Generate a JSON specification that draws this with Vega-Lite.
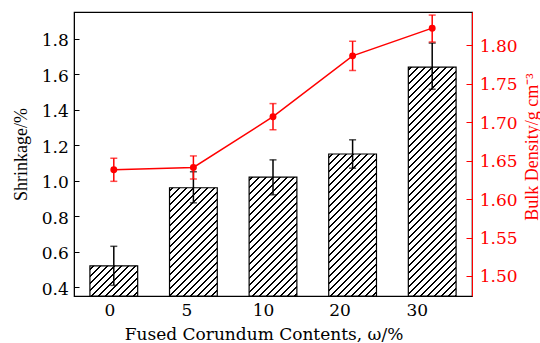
{
"$schema": "https://vega.github.io/schema/vega-lite/v6.json",
"width": 398,
"height": 284,
"autosize": {"type": "none"},
"padding": {"left": 74, "top": 12, "right": 68, "bottom": 47},
"config": {"view": {"stroke": "#000", "strokeWidth": 1.2}, "axis": {"grid": false}},
"data": {"values": [
{"c": "0", "s": 0.52, "sLo": 0.41, "sHi": 0.63, "d": 1.638, "dLo": 1.623, "dHi": 1.653},
{"c": "5", "s": 0.96, "sLo": 0.875, "sHi": 1.05, "d": 1.641, "dLo": 1.626, "dHi": 1.656},
{"c": "10", "s": 1.02, "sLo": 0.92, "sHi": 1.117, "d": 1.707, "dLo": 1.69, "dHi": 1.724},
{"c": "20", "s": 1.15, "sLo": 1.07, "sHi": 1.23, "d": 1.786, "dLo": 1.767, "dHi": 1.805},
{"c": "30", "s": 1.64, "sLo": 1.515, "sHi": 1.775, "d": 1.822, "dLo": 1.804, "dHi": 1.839}
]},
"layer": [
{"layer": [
{"mark": {"type": "bar", "stroke": "#000", "strokeWidth": 1.2},
 "encoding": {
  "x": {"field": "c", "type": "ordinal", "sort": ["0","5","10","20","30"], "scale": {"paddingInner": 0.4, "paddingOuter": 0.2},
   "axis": {"title": "Fused Corundum Contents, ω/%", "titleFont": "DejaVu Serif", "titleFontSize": 17, "titleFontWeight": "normal", "titleColor": "#000", "titleX": 189.5, "titleY": 43, "titleBaseline": "alphabetic",
    "labelFont": "DejaVu Serif", "labelFontSize": 17, "labelColor": "#000", "labelAngle": 0, "labelPadding": 11,
    "labelOffset": {"condition": [{"test": "datum.value === '0'", "value": -4}, {"test": "datum.value === '5'", "value": -6.5}, {"test": "datum.value === '10'", "value": -9.5}, {"test": "datum.value === '20'", "value": -12.5}], "value": -15},
    "domainColor": "#000", "tickColor": "#000", "tickSize": -5}},
  "y": {"field": "s", "type": "quantitative", "scale": {"domain": [0.35, 1.95], "nice": false},
   "axis": {"values": [0.4,0.6,0.8,1.0,1.2,1.4,1.6,1.8], "format": ".1f", "title": "Shrinkage/%", "titleFont": "Liberation Serif", "titleFontSize": 18, "titleFontWeight": "normal", "titleColor": "#000", "titlePadding": 11,
    "labelFont": "DejaVu Serif", "labelFontSize": 17, "labelColor": "#000", "labelPadding": 10.7, "labelOffset": 2,
    "domainColor": "#000", "tickColor": "#000", "tickSize": -5}},
  "y2": {"datum": 0.35},
  "fill": {"condition": [
   {"test": "datum.c === '0'", "value": {"gradient": "linear", "x1": 0, "y1": 0, "x2": 4.3997, "y2": 2.7797, "stops": [
{"offset":0,"color":"#fff"},
{"offset":0.0085,"color":"#fff"},{"offset":0.0085,"color":"#000"},{"offset":0.0153,"color":"#000"},{"offset":0.0153,"color":"#fff"},
{"offset":0.0323,"color":"#fff"},{"offset":0.0323,"color":"#000"},{"offset":0.0391,"color":"#000"},{"offset":0.0391,"color":"#fff"},
{"offset":0.0561,"color":"#fff"},{"offset":0.0561,"color":"#000"},{"offset":0.0629,"color":"#000"},{"offset":0.0629,"color":"#fff"},
{"offset":0.0799,"color":"#fff"},{"offset":0.0799,"color":"#000"},{"offset":0.0867,"color":"#000"},{"offset":0.0867,"color":"#fff"},
{"offset":0.1037,"color":"#fff"},{"offset":0.1037,"color":"#000"},{"offset":0.1105,"color":"#000"},{"offset":0.1105,"color":"#fff"},
{"offset":0.1276,"color":"#fff"},{"offset":0.1276,"color":"#000"},{"offset":0.1344,"color":"#000"},{"offset":0.1344,"color":"#fff"},
{"offset":0.1514,"color":"#fff"},{"offset":0.1514,"color":"#000"},{"offset":0.1582,"color":"#000"},{"offset":0.1582,"color":"#fff"},
{"offset":0.1752,"color":"#fff"},{"offset":0.1752,"color":"#000"},{"offset":0.1820,"color":"#000"},{"offset":0.1820,"color":"#fff"},
{"offset":0.1990,"color":"#fff"},{"offset":0.1990,"color":"#000"},{"offset":0.2058,"color":"#000"},{"offset":0.2058,"color":"#fff"},
{"offset":0.2228,"color":"#fff"},{"offset":0.2228,"color":"#000"},{"offset":0.2296,"color":"#000"},{"offset":0.2296,"color":"#fff"},
{"offset":0.2466,"color":"#fff"},{"offset":0.2466,"color":"#000"},{"offset":0.2534,"color":"#000"},{"offset":0.2534,"color":"#fff"},
{"offset":0.2704,"color":"#fff"},{"offset":0.2704,"color":"#000"},{"offset":0.2772,"color":"#000"},{"offset":0.2772,"color":"#fff"},
{"offset":1,"color":"#fff"}]}},
   {"test": "datum.c === '5'", "value": {"gradient": "linear", "x1": 0, "y1": 0, "x2": 1.00264, "y2": 2.27304, "stops": [
{"offset":0,"color":"#fff"},
{"offset":0.0085,"color":"#fff"},{"offset":0.0085,"color":"#000"},{"offset":0.0153,"color":"#000"},{"offset":0.0153,"color":"#fff"},
{"offset":0.0323,"color":"#fff"},{"offset":0.0323,"color":"#000"},{"offset":0.0391,"color":"#000"},{"offset":0.0391,"color":"#fff"},
{"offset":0.0561,"color":"#fff"},{"offset":0.0561,"color":"#000"},{"offset":0.0629,"color":"#000"},{"offset":0.0629,"color":"#fff"},
{"offset":0.0799,"color":"#fff"},{"offset":0.0799,"color":"#000"},{"offset":0.0867,"color":"#000"},{"offset":0.0867,"color":"#fff"},
{"offset":0.1037,"color":"#fff"},{"offset":0.1037,"color":"#000"},{"offset":0.1105,"color":"#000"},{"offset":0.1105,"color":"#fff"},
{"offset":0.1276,"color":"#fff"},{"offset":0.1276,"color":"#000"},{"offset":0.1344,"color":"#000"},{"offset":0.1344,"color":"#fff"},
{"offset":0.1514,"color":"#fff"},{"offset":0.1514,"color":"#000"},{"offset":0.1582,"color":"#000"},{"offset":0.1582,"color":"#fff"},
{"offset":0.1752,"color":"#fff"},{"offset":0.1752,"color":"#000"},{"offset":0.1820,"color":"#000"},{"offset":0.1820,"color":"#fff"},
{"offset":0.1990,"color":"#fff"},{"offset":0.1990,"color":"#000"},{"offset":0.2058,"color":"#000"},{"offset":0.2058,"color":"#fff"},
{"offset":0.2228,"color":"#fff"},{"offset":0.2228,"color":"#000"},{"offset":0.2296,"color":"#000"},{"offset":0.2296,"color":"#fff"},
{"offset":0.2466,"color":"#fff"},{"offset":0.2466,"color":"#000"},{"offset":0.2534,"color":"#000"},{"offset":0.2534,"color":"#fff"},
{"offset":0.2704,"color":"#fff"},{"offset":0.2704,"color":"#000"},{"offset":0.2772,"color":"#000"},{"offset":0.2772,"color":"#fff"},
{"offset":0.2942,"color":"#fff"},{"offset":0.2942,"color":"#000"},{"offset":0.3010,"color":"#000"},{"offset":0.3010,"color":"#fff"},
{"offset":0.3180,"color":"#fff"},{"offset":0.3180,"color":"#000"},{"offset":0.3248,"color":"#000"},{"offset":0.3248,"color":"#fff"},
{"offset":0.3418,"color":"#fff"},{"offset":0.3418,"color":"#000"},{"offset":0.3486,"color":"#000"},{"offset":0.3486,"color":"#fff"},
{"offset":0.3656,"color":"#fff"},{"offset":0.3656,"color":"#000"},{"offset":0.3724,"color":"#000"},{"offset":0.3724,"color":"#fff"},
{"offset":0.3895,"color":"#fff"},{"offset":0.3895,"color":"#000"},{"offset":0.3963,"color":"#000"},{"offset":0.3963,"color":"#fff"},
{"offset":0.4133,"color":"#fff"},{"offset":0.4133,"color":"#000"},{"offset":0.4201,"color":"#000"},{"offset":0.4201,"color":"#fff"},
{"offset":0.4371,"color":"#fff"},{"offset":0.4371,"color":"#000"},{"offset":0.4439,"color":"#000"},{"offset":0.4439,"color":"#fff"},
{"offset":0.4609,"color":"#fff"},{"offset":0.4609,"color":"#000"},{"offset":0.4677,"color":"#000"},{"offset":0.4677,"color":"#fff"},
{"offset":0.4847,"color":"#fff"},{"offset":0.4847,"color":"#000"},{"offset":0.4915,"color":"#000"},{"offset":0.4915,"color":"#fff"},
{"offset":0.5085,"color":"#fff"},{"offset":0.5085,"color":"#000"},{"offset":0.5153,"color":"#000"},{"offset":0.5153,"color":"#fff"},
{"offset":0.5323,"color":"#fff"},{"offset":0.5323,"color":"#000"},{"offset":0.5391,"color":"#000"},{"offset":0.5391,"color":"#fff"},
{"offset":1,"color":"#fff"}]}},
   {"test": "datum.c === '10'", "value": {"gradient": "linear", "x1": 0, "y1": 0, "x2": 0.85492, "y2": 2.12882, "stops": [
{"offset":0,"color":"#fff"},
{"offset":0.0085,"color":"#fff"},{"offset":0.0085,"color":"#000"},{"offset":0.0153,"color":"#000"},{"offset":0.0153,"color":"#fff"},
{"offset":0.0323,"color":"#fff"},{"offset":0.0323,"color":"#000"},{"offset":0.0391,"color":"#000"},{"offset":0.0391,"color":"#fff"},
{"offset":0.0561,"color":"#fff"},{"offset":0.0561,"color":"#000"},{"offset":0.0629,"color":"#000"},{"offset":0.0629,"color":"#fff"},
{"offset":0.0799,"color":"#fff"},{"offset":0.0799,"color":"#000"},{"offset":0.0867,"color":"#000"},{"offset":0.0867,"color":"#fff"},
{"offset":0.1037,"color":"#fff"},{"offset":0.1037,"color":"#000"},{"offset":0.1105,"color":"#000"},{"offset":0.1105,"color":"#fff"},
{"offset":0.1276,"color":"#fff"},{"offset":0.1276,"color":"#000"},{"offset":0.1344,"color":"#000"},{"offset":0.1344,"color":"#fff"},
{"offset":0.1514,"color":"#fff"},{"offset":0.1514,"color":"#000"},{"offset":0.1582,"color":"#000"},{"offset":0.1582,"color":"#fff"},
{"offset":0.1752,"color":"#fff"},{"offset":0.1752,"color":"#000"},{"offset":0.1820,"color":"#000"},{"offset":0.1820,"color":"#fff"},
{"offset":0.1990,"color":"#fff"},{"offset":0.1990,"color":"#000"},{"offset":0.2058,"color":"#000"},{"offset":0.2058,"color":"#fff"},
{"offset":0.2228,"color":"#fff"},{"offset":0.2228,"color":"#000"},{"offset":0.2296,"color":"#000"},{"offset":0.2296,"color":"#fff"},
{"offset":0.2466,"color":"#fff"},{"offset":0.2466,"color":"#000"},{"offset":0.2534,"color":"#000"},{"offset":0.2534,"color":"#fff"},
{"offset":0.2704,"color":"#fff"},{"offset":0.2704,"color":"#000"},{"offset":0.2772,"color":"#000"},{"offset":0.2772,"color":"#fff"},
{"offset":0.2942,"color":"#fff"},{"offset":0.2942,"color":"#000"},{"offset":0.3010,"color":"#000"},{"offset":0.3010,"color":"#fff"},
{"offset":0.3180,"color":"#fff"},{"offset":0.3180,"color":"#000"},{"offset":0.3248,"color":"#000"},{"offset":0.3248,"color":"#fff"},
{"offset":0.3418,"color":"#fff"},{"offset":0.3418,"color":"#000"},{"offset":0.3486,"color":"#000"},{"offset":0.3486,"color":"#fff"},
{"offset":0.3656,"color":"#fff"},{"offset":0.3656,"color":"#000"},{"offset":0.3724,"color":"#000"},{"offset":0.3724,"color":"#fff"},
{"offset":0.3895,"color":"#fff"},{"offset":0.3895,"color":"#000"},{"offset":0.3963,"color":"#000"},{"offset":0.3963,"color":"#fff"},
{"offset":0.4133,"color":"#fff"},{"offset":0.4133,"color":"#000"},{"offset":0.4201,"color":"#000"},{"offset":0.4201,"color":"#fff"},
{"offset":0.4371,"color":"#fff"},{"offset":0.4371,"color":"#000"},{"offset":0.4439,"color":"#000"},{"offset":0.4439,"color":"#fff"},
{"offset":0.4609,"color":"#fff"},{"offset":0.4609,"color":"#000"},{"offset":0.4677,"color":"#000"},{"offset":0.4677,"color":"#fff"},
{"offset":0.4847,"color":"#fff"},{"offset":0.4847,"color":"#000"},{"offset":0.4915,"color":"#000"},{"offset":0.4915,"color":"#fff"},
{"offset":0.5085,"color":"#fff"},{"offset":0.5085,"color":"#000"},{"offset":0.5153,"color":"#000"},{"offset":0.5153,"color":"#fff"},
{"offset":0.5323,"color":"#fff"},{"offset":0.5323,"color":"#000"},{"offset":0.5391,"color":"#000"},{"offset":0.5391,"color":"#fff"},
{"offset":0.5561,"color":"#fff"},{"offset":0.5561,"color":"#000"},{"offset":0.5629,"color":"#000"},{"offset":0.5629,"color":"#fff"},
{"offset":1,"color":"#fff"}]}},
   {"test": "datum.c === '20'", "value": {"gradient": "linear", "x1": 0, "y1": 0, "x2": 0.62559, "y2": 1.86001, "stops": [
{"offset":0,"color":"#fff"},
{"offset":0.0085,"color":"#fff"},{"offset":0.0085,"color":"#000"},{"offset":0.0153,"color":"#000"},{"offset":0.0153,"color":"#fff"},
{"offset":0.0323,"color":"#fff"},{"offset":0.0323,"color":"#000"},{"offset":0.0391,"color":"#000"},{"offset":0.0391,"color":"#fff"},
{"offset":0.0561,"color":"#fff"},{"offset":0.0561,"color":"#000"},{"offset":0.0629,"color":"#000"},{"offset":0.0629,"color":"#fff"},
{"offset":0.0799,"color":"#fff"},{"offset":0.0799,"color":"#000"},{"offset":0.0867,"color":"#000"},{"offset":0.0867,"color":"#fff"},
{"offset":0.1037,"color":"#fff"},{"offset":0.1037,"color":"#000"},{"offset":0.1105,"color":"#000"},{"offset":0.1105,"color":"#fff"},
{"offset":0.1276,"color":"#fff"},{"offset":0.1276,"color":"#000"},{"offset":0.1344,"color":"#000"},{"offset":0.1344,"color":"#fff"},
{"offset":0.1514,"color":"#fff"},{"offset":0.1514,"color":"#000"},{"offset":0.1582,"color":"#000"},{"offset":0.1582,"color":"#fff"},
{"offset":0.1752,"color":"#fff"},{"offset":0.1752,"color":"#000"},{"offset":0.1820,"color":"#000"},{"offset":0.1820,"color":"#fff"},
{"offset":0.1990,"color":"#fff"},{"offset":0.1990,"color":"#000"},{"offset":0.2058,"color":"#000"},{"offset":0.2058,"color":"#fff"},
{"offset":0.2228,"color":"#fff"},{"offset":0.2228,"color":"#000"},{"offset":0.2296,"color":"#000"},{"offset":0.2296,"color":"#fff"},
{"offset":0.2466,"color":"#fff"},{"offset":0.2466,"color":"#000"},{"offset":0.2534,"color":"#000"},{"offset":0.2534,"color":"#fff"},
{"offset":0.2704,"color":"#fff"},{"offset":0.2704,"color":"#000"},{"offset":0.2772,"color":"#000"},{"offset":0.2772,"color":"#fff"},
{"offset":0.2942,"color":"#fff"},{"offset":0.2942,"color":"#000"},{"offset":0.3010,"color":"#000"},{"offset":0.3010,"color":"#fff"},
{"offset":0.3180,"color":"#fff"},{"offset":0.3180,"color":"#000"},{"offset":0.3248,"color":"#000"},{"offset":0.3248,"color":"#fff"},
{"offset":0.3418,"color":"#fff"},{"offset":0.3418,"color":"#000"},{"offset":0.3486,"color":"#000"},{"offset":0.3486,"color":"#fff"},
{"offset":0.3656,"color":"#fff"},{"offset":0.3656,"color":"#000"},{"offset":0.3724,"color":"#000"},{"offset":0.3724,"color":"#fff"},
{"offset":0.3895,"color":"#fff"},{"offset":0.3895,"color":"#000"},{"offset":0.3963,"color":"#000"},{"offset":0.3963,"color":"#fff"},
{"offset":0.4133,"color":"#fff"},{"offset":0.4133,"color":"#000"},{"offset":0.4201,"color":"#000"},{"offset":0.4201,"color":"#fff"},
{"offset":0.4371,"color":"#fff"},{"offset":0.4371,"color":"#000"},{"offset":0.4439,"color":"#000"},{"offset":0.4439,"color":"#fff"},
{"offset":0.4609,"color":"#fff"},{"offset":0.4609,"color":"#000"},{"offset":0.4677,"color":"#000"},{"offset":0.4677,"color":"#fff"},
{"offset":0.4847,"color":"#fff"},{"offset":0.4847,"color":"#000"},{"offset":0.4915,"color":"#000"},{"offset":0.4915,"color":"#fff"},
{"offset":0.5085,"color":"#fff"},{"offset":0.5085,"color":"#000"},{"offset":0.5153,"color":"#000"},{"offset":0.5153,"color":"#fff"},
{"offset":0.5323,"color":"#fff"},{"offset":0.5323,"color":"#000"},{"offset":0.5391,"color":"#000"},{"offset":0.5391,"color":"#fff"},
{"offset":0.5561,"color":"#fff"},{"offset":0.5561,"color":"#000"},{"offset":0.5629,"color":"#000"},{"offset":0.5629,"color":"#fff"},
{"offset":0.5799,"color":"#fff"},{"offset":0.5799,"color":"#000"},{"offset":0.5867,"color":"#000"},{"offset":0.5867,"color":"#fff"},
{"offset":0.6037,"color":"#fff"},{"offset":0.6037,"color":"#000"},{"offset":0.6105,"color":"#000"},{"offset":0.6105,"color":"#fff"},
{"offset":0.6276,"color":"#fff"},{"offset":0.6276,"color":"#000"},{"offset":0.6344,"color":"#000"},{"offset":0.6344,"color":"#fff"},
{"offset":1,"color":"#fff"}]}}
  ],
  "value": {"gradient": "linear", "x1": 0, "y1": 0, "x2": 0.25665, "y2": 1.23045, "stops": [
{"offset":0,"color":"#fff"},
{"offset":0.0085,"color":"#fff"},{"offset":0.0085,"color":"#000"},{"offset":0.0153,"color":"#000"},{"offset":0.0153,"color":"#fff"},
{"offset":0.0323,"color":"#fff"},{"offset":0.0323,"color":"#000"},{"offset":0.0391,"color":"#000"},{"offset":0.0391,"color":"#fff"},
{"offset":0.0561,"color":"#fff"},{"offset":0.0561,"color":"#000"},{"offset":0.0629,"color":"#000"},{"offset":0.0629,"color":"#fff"},
{"offset":0.0799,"color":"#fff"},{"offset":0.0799,"color":"#000"},{"offset":0.0867,"color":"#000"},{"offset":0.0867,"color":"#fff"},
{"offset":0.1037,"color":"#fff"},{"offset":0.1037,"color":"#000"},{"offset":0.1105,"color":"#000"},{"offset":0.1105,"color":"#fff"},
{"offset":0.1276,"color":"#fff"},{"offset":0.1276,"color":"#000"},{"offset":0.1344,"color":"#000"},{"offset":0.1344,"color":"#fff"},
{"offset":0.1514,"color":"#fff"},{"offset":0.1514,"color":"#000"},{"offset":0.1582,"color":"#000"},{"offset":0.1582,"color":"#fff"},
{"offset":0.1752,"color":"#fff"},{"offset":0.1752,"color":"#000"},{"offset":0.1820,"color":"#000"},{"offset":0.1820,"color":"#fff"},
{"offset":0.1990,"color":"#fff"},{"offset":0.1990,"color":"#000"},{"offset":0.2058,"color":"#000"},{"offset":0.2058,"color":"#fff"},
{"offset":0.2228,"color":"#fff"},{"offset":0.2228,"color":"#000"},{"offset":0.2296,"color":"#000"},{"offset":0.2296,"color":"#fff"},
{"offset":0.2466,"color":"#fff"},{"offset":0.2466,"color":"#000"},{"offset":0.2534,"color":"#000"},{"offset":0.2534,"color":"#fff"},
{"offset":0.2704,"color":"#fff"},{"offset":0.2704,"color":"#000"},{"offset":0.2772,"color":"#000"},{"offset":0.2772,"color":"#fff"},
{"offset":0.2942,"color":"#fff"},{"offset":0.2942,"color":"#000"},{"offset":0.3010,"color":"#000"},{"offset":0.3010,"color":"#fff"},
{"offset":0.3180,"color":"#fff"},{"offset":0.3180,"color":"#000"},{"offset":0.3248,"color":"#000"},{"offset":0.3248,"color":"#fff"},
{"offset":0.3418,"color":"#fff"},{"offset":0.3418,"color":"#000"},{"offset":0.3486,"color":"#000"},{"offset":0.3486,"color":"#fff"},
{"offset":0.3656,"color":"#fff"},{"offset":0.3656,"color":"#000"},{"offset":0.3724,"color":"#000"},{"offset":0.3724,"color":"#fff"},
{"offset":0.3895,"color":"#fff"},{"offset":0.3895,"color":"#000"},{"offset":0.3963,"color":"#000"},{"offset":0.3963,"color":"#fff"},
{"offset":0.4133,"color":"#fff"},{"offset":0.4133,"color":"#000"},{"offset":0.4201,"color":"#000"},{"offset":0.4201,"color":"#fff"},
{"offset":0.4371,"color":"#fff"},{"offset":0.4371,"color":"#000"},{"offset":0.4439,"color":"#000"},{"offset":0.4439,"color":"#fff"},
{"offset":0.4609,"color":"#fff"},{"offset":0.4609,"color":"#000"},{"offset":0.4677,"color":"#000"},{"offset":0.4677,"color":"#fff"},
{"offset":0.4847,"color":"#fff"},{"offset":0.4847,"color":"#000"},{"offset":0.4915,"color":"#000"},{"offset":0.4915,"color":"#fff"},
{"offset":0.5085,"color":"#fff"},{"offset":0.5085,"color":"#000"},{"offset":0.5153,"color":"#000"},{"offset":0.5153,"color":"#fff"},
{"offset":0.5323,"color":"#fff"},{"offset":0.5323,"color":"#000"},{"offset":0.5391,"color":"#000"},{"offset":0.5391,"color":"#fff"},
{"offset":0.5561,"color":"#fff"},{"offset":0.5561,"color":"#000"},{"offset":0.5629,"color":"#000"},{"offset":0.5629,"color":"#fff"},
{"offset":0.5799,"color":"#fff"},{"offset":0.5799,"color":"#000"},{"offset":0.5867,"color":"#000"},{"offset":0.5867,"color":"#fff"},
{"offset":0.6037,"color":"#fff"},{"offset":0.6037,"color":"#000"},{"offset":0.6105,"color":"#000"},{"offset":0.6105,"color":"#fff"},
{"offset":0.6276,"color":"#fff"},{"offset":0.6276,"color":"#000"},{"offset":0.6344,"color":"#000"},{"offset":0.6344,"color":"#fff"},
{"offset":0.6514,"color":"#fff"},{"offset":0.6514,"color":"#000"},{"offset":0.6582,"color":"#000"},{"offset":0.6582,"color":"#fff"},
{"offset":0.6752,"color":"#fff"},{"offset":0.6752,"color":"#000"},{"offset":0.6820,"color":"#000"},{"offset":0.6820,"color":"#fff"},
{"offset":0.6990,"color":"#fff"},{"offset":0.6990,"color":"#000"},{"offset":0.7058,"color":"#000"},{"offset":0.7058,"color":"#fff"},
{"offset":0.7228,"color":"#fff"},{"offset":0.7228,"color":"#000"},{"offset":0.7296,"color":"#000"},{"offset":0.7296,"color":"#fff"},
{"offset":0.7466,"color":"#fff"},{"offset":0.7466,"color":"#000"},{"offset":0.7534,"color":"#000"},{"offset":0.7534,"color":"#fff"},
{"offset":0.7704,"color":"#fff"},{"offset":0.7704,"color":"#000"},{"offset":0.7772,"color":"#000"},{"offset":0.7772,"color":"#fff"},
{"offset":0.7942,"color":"#fff"},{"offset":0.7942,"color":"#000"},{"offset":0.8010,"color":"#000"},{"offset":0.8010,"color":"#fff"},
{"offset":0.8180,"color":"#fff"},{"offset":0.8180,"color":"#000"},{"offset":0.8248,"color":"#000"},{"offset":0.8248,"color":"#fff"},
{"offset":0.8418,"color":"#fff"},{"offset":0.8418,"color":"#000"},{"offset":0.8486,"color":"#000"},{"offset":0.8486,"color":"#fff"},
{"offset":0.8656,"color":"#fff"},{"offset":0.8656,"color":"#000"},{"offset":0.8724,"color":"#000"},{"offset":0.8724,"color":"#fff"},
{"offset":0.8895,"color":"#fff"},{"offset":0.8895,"color":"#000"},{"offset":0.8963,"color":"#000"},{"offset":0.8963,"color":"#fff"},
{"offset":0.9133,"color":"#fff"},{"offset":0.9133,"color":"#000"},{"offset":0.9201,"color":"#000"},{"offset":0.9201,"color":"#fff"},
{"offset":0.9371,"color":"#fff"},{"offset":0.9371,"color":"#000"},{"offset":0.9439,"color":"#000"},{"offset":0.9439,"color":"#fff"},
{"offset":1,"color":"#fff"}]}}
 }},
{"mark": {"type": "rule", "color": "#000", "strokeWidth": 1.5},
 "encoding": {"x": {"field": "c", "type": "ordinal", "sort": ["0","5","10","20","30"]},
  "y": {"field": "sLo", "type": "quantitative"}, "y2": {"field": "sHi"}}},
{"mark": {"type": "tick", "color": "#000", "size": 7, "thickness": 1.5, "orient": "horizontal"},
 "encoding": {"x": {"field": "c", "type": "ordinal", "sort": ["0","5","10","20","30"]},
  "y": {"field": "sLo", "type": "quantitative"}}},
{"mark": {"type": "tick", "color": "#000", "size": 7, "thickness": 1.5, "orient": "horizontal"},
 "encoding": {"x": {"field": "c", "type": "ordinal", "sort": ["0","5","10","20","30"]},
  "y": {"field": "sHi", "type": "quantitative"}}}
]},
{"layer": [
{"mark": {"type": "line", "color": "#ff0000", "strokeWidth": 1.5},
 "encoding": {"x": {"field": "c", "type": "ordinal", "sort": ["0","5","10","20","30"]},
  "y": {"field": "d", "type": "quantitative", "scale": {"domain": [1.474, 1.843], "nice": false},
   "axis": {"orient": "right", "values": [1.5,1.55,1.6,1.65,1.7,1.75,1.8], "format": ".2f", "title": "Bulk Density/g cm⁻³", "titleFont": "Liberation Serif", "titleFontSize": 18, "titleFontWeight": "normal", "titleColor": "#ff0000", "titleAngle": 270, "titleBaseline": "top", "titleX": 51, "titleY": 134.5,
    "labelFont": "DejaVu Serif", "labelFontSize": 17, "labelColor": "#ff0000", "labelPadding": 13.3, "labelOffset": 1,
    "domainColor": "#ff0000", "tickColor": "#ff0000", "tickSize": -6}}}},
{"mark": {"type": "rule", "color": "#ff0000", "strokeWidth": 1.5},
 "encoding": {"x": {"field": "c", "type": "ordinal", "sort": ["0","5","10","20","30"]},
  "y": {"field": "dLo", "type": "quantitative"}, "y2": {"field": "dHi"}}},
{"mark": {"type": "tick", "color": "#ff0000", "size": 7, "thickness": 1.5, "orient": "horizontal"},
 "encoding": {"x": {"field": "c", "type": "ordinal", "sort": ["0","5","10","20","30"]},
  "y": {"field": "dLo", "type": "quantitative"}}},
{"mark": {"type": "tick", "color": "#ff0000", "size": 7, "thickness": 1.5, "orient": "horizontal"},
 "encoding": {"x": {"field": "c", "type": "ordinal", "sort": ["0","5","10","20","30"]},
  "y": {"field": "dHi", "type": "quantitative"}}},
{"mark": {"type": "point", "filled": true, "color": "#ff0000", "size": 48, "opacity": 1},
 "encoding": {"x": {"field": "c", "type": "ordinal", "sort": ["0","5","10","20","30"]},
  "y": {"field": "d", "type": "quantitative"}}}
]}
],
"resolve": {"scale": {"y": "independent"}}
}
